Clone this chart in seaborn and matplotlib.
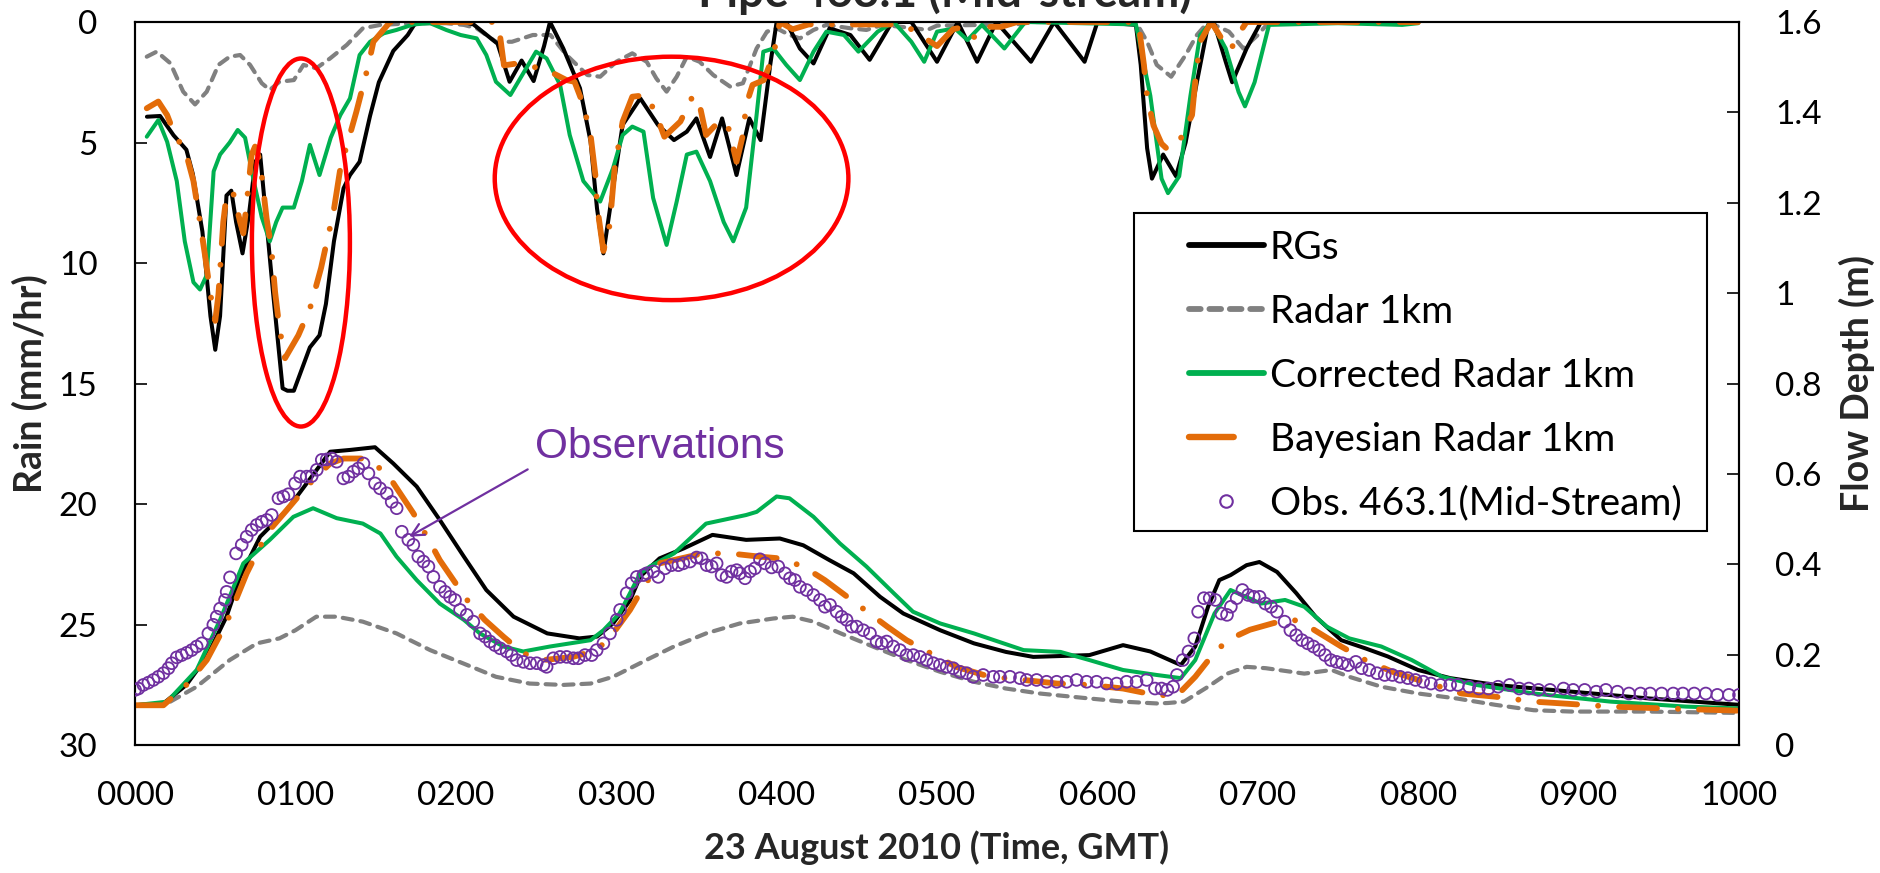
import numpy as np
import pandas as pd
import matplotlib
matplotlib.use("Agg")
import matplotlib.pyplot as plt
from matplotlib.patches import Ellipse, Rectangle
from matplotlib.lines import Line2D
import seaborn as sns

# ---------------- data (time in hours after 00:00 GMT) ----------------
# Rainfall intensity (mm/hr), plotted on the inverted left axis
rgs_rain_t = [0.074, 0.156, 0.24, 0.32, 0.36, 0.42, 0.47, 0.50, 0.53, 0.57, 0.60, 0.63, 0.67, 0.71, 0.75,
              0.78, 0.86, 0.92, 0.95, 0.99, 1.04, 1.09, 1.15, 1.19, 1.24, 1.30, 1.34, 1.40, 1.465, 1.52,
              1.61, 1.70, 1.74, 1.78, 2.05, 2.11, 2.26, 2.335, 2.41, 2.485, 2.55, 2.587, 2.67, 2.774,
              2.84, 2.88, 2.92, 2.98, 3.04, 3.15, 3.26, 3.36, 3.44, 3.50, 3.585, 3.66, 3.75, 3.83, 3.90,
              3.96, 4.00, 4.06, 4.145, 4.23, 4.33, 4.46, 4.58, 4.72, 4.84, 5.00, 5.13, 5.25, 5.37, 5.586,
              5.73, 5.92, 6.00, 6.24, 6.27, 6.31, 6.34, 6.41, 6.49, 6.55, 6.62, 6.69, 6.73, 6.80, 6.84,
              6.93, 7.02, 8.00]
rgs_rain = [3.93, 3.9, 4.7, 5.3, 6.3, 8.7, 12.2, 13.6, 12.2, 7.2, 7.0, 8.3, 9.6, 8.0, 5.8,
            5.5, 11.2, 15.2, 15.3, 15.3, 14.4, 13.5, 13.0, 11.7, 9.1, 6.9, 6.35, 5.8, 3.9, 2.5,
            1.2, 0.54, 0.12, 0.0, 0.0, 0.1, 0.9, 2.48, 1.6, 2.45, 1.0, 0.0, 1.1, 2.75,
            4.96, 7.73, 9.6, 6.9, 4.27, 3.17, 4.27, 4.9, 4.55, 4.0, 5.6, 4.0, 6.35, 4.0, 4.9,
            1.78, 0.0, 0.0, 1.1, 1.72, 0.26, 0.54, 1.57, 0.0, 0.0, 1.65, 0.0, 1.65, 0.0, 1.65,
            0.0, 1.65, 0.0, 0.12, 1.78, 5.24, 6.5, 5.5, 6.4, 5.0, 2.5, 0.12, 0.1, 1.65, 2.5,
            1.1, 0.0, 0.0]

radar_rain_t = [0.073, 0.135, 0.22, 0.30, 0.374, 0.447, 0.52, 0.59, 0.655, 0.717, 0.79, 0.84, 0.90, 0.99,
                1.05, 1.13, 1.216, 1.32, 1.42, 1.53, 1.735, 1.94, 2.05, 2.13, 2.25, 2.35, 2.48, 2.59,
                2.69, 2.82, 2.90, 3.00, 3.10, 3.19, 3.25, 3.314, 3.377, 3.44, 3.52, 3.605, 3.71, 3.79,
                3.875, 3.94, 4.00, 4.08, 4.145, 4.23, 4.31, 4.46, 4.56, 4.66, 4.86, 4.94, 5.00, 5.50,
                5.60, 6.24, 6.31, 6.37, 6.46, 6.55, 6.62, 6.69, 6.82, 6.91, 7.00, 7.07, 8.00]
radar_rain = [1.44, 1.23, 1.71, 2.89, 3.42, 2.89, 1.78, 1.44, 1.37, 1.78, 2.54, 2.82, 2.48, 2.41,
              1.78, 1.92, 1.51, 0.95, 0.26, 0.12, 0.05, 0.05, 0.12, 0.26, 0.82, 0.82, 0.54, 0.54,
              1.37, 2.2, 2.27, 1.65, 1.3, 1.65, 2.34, 2.89, 2.27, 1.44, 1.65, 2.2, 2.68, 2.54,
              1.1, 0.4, 0.26, 0.54, 0.68, 0.33, 0.12, 0.26, 0.33, 0.12, 0.26, 0.33, 0.15, 0.1,
              0.0, 0.0, 0.82, 1.78, 2.27, 1.37, 0.54, 0.0, 0.4, 1.1, 0.54, 0.0, 0.0]

corr_rain_t = [0.073, 0.145, 0.20, 0.26, 0.31, 0.364, 0.405, 0.447, 0.49, 0.53, 0.59, 0.64, 0.686, 0.74,
               0.79, 0.84, 0.88, 0.92, 0.99, 1.04, 1.09, 1.15, 1.22, 1.28, 1.34, 1.40, 1.465, 1.55, 1.63,
               1.735, 1.84, 1.94, 2.03, 2.13, 2.19, 2.25, 2.34, 2.42, 2.50, 2.566, 2.65, 2.71, 2.795,
               2.90, 2.98, 3.04, 3.10, 3.17, 3.23, 3.314, 3.377, 3.44, 3.50, 3.585, 3.67, 3.73, 3.81,
               3.875, 3.917, 3.98, 4.06, 4.145, 4.23, 4.31, 4.42, 4.51, 4.63, 4.73, 4.84, 4.92, 5.00,
               5.11, 5.19, 5.28, 5.42, 5.55, 6.24, 6.33, 6.40, 6.44, 6.51, 6.58, 6.64, 6.71, 6.80,
               6.88, 6.92, 6.98, 7.07, 7.50, 7.90, 8.00]
corr_rain = [4.76, 4.07, 4.97, 6.6, 9.1, 10.8, 11.1, 10.5, 6.2, 5.5, 5.0, 4.48, 4.8, 6.6,
             8.1, 9.1, 8.3, 7.7, 7.7, 6.6, 5.1, 6.35, 4.8, 3.86, 3.17, 1.37, 0.82, 0.47, 0.33,
             0.1, 0.05, 0.33, 0.54, 0.68, 1.37, 2.48, 3.03, 2.13, 1.23, 1.51, 2.61, 4.69, 6.6,
             7.45, 6.07, 4.69, 4.34, 4.55, 7.3, 9.25, 7.45, 5.5, 5.38, 6.6, 8.3, 9.1, 7.7,
             3.86, 1.23, 1.1, 1.78, 2.41, 1.23, 0.4, 0.54, 1.23, 0.4, 0.0, 0.82, 1.65, 0.4,
             0.26, 0.75, 0.12, 1.1, 0.0, 0.1, 3.06, 6.5, 7.1, 6.4, 3.06, 0.54, 0.0, 1.1,
             2.9, 3.5, 2.5, 0.12, 0.05, 0.12, 0.05]

bayes_rain_t = [0.073, 0.145, 0.20, 0.24, 0.32, 0.364, 0.405, 0.436, 0.47, 0.50, 0.52, 0.55, 0.57, 0.61,
                0.655, 0.675, 0.696, 0.727, 0.748, 0.78, 0.82, 0.85, 0.873, 0.90, 0.935, 1.018, 1.09,
                1.16, 1.20, 1.237, 1.28, 1.33, 1.38, 1.455, 1.486, 1.59, 2.25, 2.27, 2.30, 2.38, 2.48,
                2.587, 2.69, 2.74, 2.795, 2.84, 2.87, 2.88, 2.92, 2.96, 2.99, 3.04, 3.10, 3.19, 3.25,
                3.30, 3.40, 3.48, 3.52, 3.56, 3.62, 3.69, 3.75, 3.79, 3.81, 3.85, 3.92, 3.98, 4.02,
                4.10, 4.20, 4.60, 4.75, 4.84, 5.00, 5.10, 5.17, 5.24, 5.32, 5.40, 5.50, 6.24, 6.26,
                6.29, 6.31, 6.35, 6.40, 6.44, 6.51, 6.59, 6.61, 6.64, 6.71, 6.80, 6.83, 6.89, 6.93, 8.00]
bayes_rain = [3.58, 3.3, 3.86, 4.55, 5.5, 6.6, 8.3, 9.67, 11.3, 12.4, 11.3, 8.3, 7.2, 7.04,
              8.3, 8.77, 7.5, 5.5, 5.17, 5.8, 8.15, 9.4, 11.2, 12.7, 13.95, 13.0, 11.9,
              10.2, 8.98, 7.9, 6.07, 4.9, 3.72, 1.78, 0.82, 0.0, 0.0, 0.3, 1.8, 1.72, 1.85,
              2.06, 2.41, 2.48, 3.44, 4.69, 6.35, 7.6, 9.5, 8.4, 6.07, 4.13, 3.1, 3.03, 3.86,
              4.76, 4.13, 3.03, 3.44, 4.69, 4.27, 4.13, 5.8, 4.69, 3.44, 2.61, 2.41, 1.37, 0.0,
              0.3, 0.1, 0.1, 0.1, 0.3, 1.0, 0.3, 0.2, 0.68, 0.2, 0.2, 0.0, 0.0, 0.26,
              1.78, 3.1, 4.3, 5.05, 5.3, 4.96, 3.86, 2.48, 0.82, 0.0, 0.96, 1.16, 0.4, 0.0, 0.0]

# Simulated flow depth (m), plotted on the right axis
rgs_flow_t = [0.0, 0.177, 0.32, 0.447, 0.57, 0.655, 0.78, 0.946, 1.07, 1.216, 1.34, 1.496, 1.61, 1.756,
              1.90, 2.05, 2.19, 2.36, 2.57, 2.77, 2.88, 2.98, 3.086, 3.15, 3.27, 3.42, 3.60, 3.81, 4.02,
              4.166, 4.33, 4.48, 4.645, 4.79, 5.02, 5.23, 5.43, 5.60, 5.95, 6.16, 6.33, 6.52, 6.61,
              6.69, 6.76, 6.83, 6.93, 7.01, 7.12, 7.24, 7.36, 7.52, 7.67, 7.81, 8.00, 8.20, 8.48,
              8.96, 9.44, 10.0]
rgs_flow = [0.088, 0.092, 0.133, 0.195, 0.284, 0.372, 0.461, 0.52, 0.579, 0.649, 0.653, 0.659, 0.623, 0.572,
            0.498, 0.417, 0.343, 0.284, 0.247, 0.236, 0.24, 0.269, 0.32, 0.373, 0.413, 0.435, 0.465, 0.454, 0.457,
            0.442, 0.409, 0.38, 0.328, 0.291, 0.254, 0.225, 0.206, 0.195, 0.199, 0.221, 0.207, 0.177, 0.218,
            0.306, 0.365, 0.376, 0.398, 0.405, 0.383, 0.336, 0.284, 0.232, 0.214, 0.196, 0.166, 0.148, 0.133,
            0.118, 0.103, 0.089]

radar_flow_t = [0.0, 0.20, 0.384, 0.59, 0.76, 0.90, 1.0, 1.13, 1.257, 1.42, 1.63, 1.84, 2.05, 2.25, 2.46,
                2.67, 2.84, 2.98, 3.21, 3.36, 3.56, 3.77, 3.98, 4.10, 4.23, 4.40, 4.60, 4.81, 5.02, 5.23,
                5.43, 5.64, 5.95, 6.16, 6.37, 6.44, 6.54, 6.69, 6.81, 6.93, 7.05, 7.29, 7.46, 7.57, 7.77,
                8.00, 8.24, 8.48, 8.72, 8.96, 9.44, 10.0]
radar_flow = [0.088, 0.092, 0.129, 0.188, 0.225, 0.236, 0.254, 0.284, 0.284, 0.273, 0.247, 0.21, 0.18, 0.151, 0.136,
              0.133, 0.136, 0.151, 0.192, 0.218, 0.247, 0.269, 0.28, 0.284, 0.273, 0.247, 0.218, 0.188, 0.162, 0.14,
              0.125, 0.114, 0.103, 0.096, 0.092, 0.093, 0.096, 0.129, 0.158, 0.173, 0.17, 0.158, 0.166, 0.151, 0.129,
              0.114, 0.103, 0.089, 0.077, 0.074, 0.074, 0.071]

corr_flow_t = [0.0, 0.20, 0.384, 0.53, 0.675, 0.84, 0.987, 1.11, 1.257, 1.42, 1.53, 1.63, 1.756, 1.90, 2.05,
               2.15, 2.296, 2.42, 2.587, 2.84, 2.92, 3.02, 3.15, 3.21, 3.36, 3.56, 3.81, 3.876, 4.0, 4.08,
               4.23, 4.395, 4.56, 4.73, 4.85, 5.02, 5.23, 5.54, 5.77, 5.95, 6.16, 6.37, 6.52, 6.61, 6.73,
               6.83, 6.90, 7.02, 7.17, 7.29, 7.43, 7.57, 7.77, 7.96, 8.15, 8.36, 8.72, 9.20, 9.67, 10.0]
corr_flow = [0.088, 0.096, 0.166, 0.277, 0.402, 0.454, 0.505, 0.524, 0.502, 0.49, 0.468, 0.417, 0.365, 0.313, 0.277,
             0.247, 0.218, 0.207, 0.218, 0.232, 0.254, 0.291, 0.38, 0.395, 0.424, 0.49, 0.509, 0.516, 0.55, 0.546,
             0.505, 0.446, 0.395, 0.336, 0.295, 0.269, 0.247, 0.21, 0.206, 0.188, 0.166, 0.155, 0.148, 0.188, 0.291,
             0.343, 0.332, 0.313, 0.321, 0.306, 0.262, 0.236, 0.218, 0.188, 0.151, 0.133, 0.114, 0.096, 0.085, 0.081]

bayes_flow_t = [0.0, 0.177, 0.32, 0.447, 0.57, 0.696, 0.82, 0.946, 1.07, 1.216, 1.30, 1.44, 1.57, 1.735, 1.82,
                1.90, 2.07, 2.18, 2.296, 2.42, 2.546, 2.73, 2.88, 2.98, 3.086, 3.17, 3.27, 3.54, 3.71, 3.89,
                4.02, 4.166, 4.30, 4.44, 4.69, 4.81, 4.96, 5.12, 5.33, 5.54, 5.75, 5.95, 6.16, 6.37, 6.50,
                6.61, 6.71, 6.81, 6.95, 7.10, 7.22, 7.35, 7.52, 7.67, 7.84, 8.10, 8.27, 8.48, 8.72, 8.90,
                9.20, 9.53, 10.0]
bayes_flow = [0.088, 0.088, 0.133, 0.188, 0.27, 0.38, 0.468, 0.52, 0.572, 0.623, 0.634, 0.634, 0.601, 0.513, 0.461,
              0.409, 0.321, 0.277, 0.24, 0.203, 0.188, 0.195, 0.21, 0.247, 0.299, 0.35, 0.402, 0.424, 0.424, 0.417,
              0.413, 0.395, 0.365, 0.328, 0.262, 0.232, 0.203, 0.173, 0.151, 0.144, 0.136, 0.133, 0.125, 0.11, 0.111,
              0.151, 0.196, 0.232, 0.255, 0.27, 0.278, 0.255, 0.218, 0.188, 0.162, 0.133, 0.114, 0.107, 0.096, 0.092,
              0.085, 0.081, 0.076]

# Observed flow depth at 463.1 (mid-stream)
obs_t = [0.000, 0.021, 0.052, 0.083, 0.114, 0.145, 0.177, 0.208, 0.229, 0.260, 0.291, 0.322, 0.353, 0.384,
         0.416, 0.457, 0.488, 0.509, 0.530, 0.561, 0.571, 0.592, 0.630, 0.665, 0.696, 0.727, 0.759, 0.790,
         0.821, 0.852, 0.894, 0.925, 0.956, 0.998, 1.029, 1.070, 1.101, 1.133, 1.164, 1.195, 1.226, 1.257,
         1.299, 1.330, 1.361, 1.392, 1.424, 1.455, 1.496, 1.527, 1.569, 1.600, 1.631, 1.663, 1.704, 1.735,
         1.766, 1.798, 1.829, 1.860, 1.901, 1.933, 1.964, 1.995, 2.026, 2.068, 2.109, 2.151, 2.182, 2.213,
         2.244, 2.276, 2.317, 2.348, 2.379, 2.421, 2.463, 2.504, 2.546, 2.566, 2.608, 2.650, 2.691, 2.733,
         2.764, 2.805, 2.847, 2.878, 2.920, 2.961, 3.003, 3.024, 3.065, 3.096, 3.128, 3.169,
         3.190, 3.231, 3.262, 3.304, 3.345, 3.387, 3.418, 3.460, 3.501, 3.532, 3.564, 3.595, 3.626, 3.657,
         3.688, 3.719, 3.751, 3.771, 3.803, 3.834, 3.865, 3.896, 3.927, 3.969, 4.010, 4.052, 4.083, 4.114,
         4.145, 4.187, 4.229, 4.270, 4.301, 4.333, 4.374, 4.405, 4.436, 4.468, 4.499, 4.540, 4.582, 4.623,
         4.655, 4.686, 4.727, 4.769, 4.810, 4.852, 4.894, 4.935, 4.977, 5.018, 5.060, 5.101, 5.143, 5.185,
         5.226, 5.288, 5.351, 5.392, 5.455, 5.517, 5.559, 5.621, 5.683, 5.746, 5.808, 5.870, 5.933, 5.995,
         6.057, 6.120, 6.182, 6.244, 6.307, 6.359,
         6.400, 6.436, 6.472, 6.496, 6.532, 6.568, 6.604, 6.628, 6.664, 6.700, 6.736, 6.772, 6.808, 6.832,
         6.868, 6.904, 6.940, 6.975, 7.011, 7.047, 7.083, 7.119, 7.167, 7.203, 7.239, 7.275, 7.311, 7.347,
         7.383, 7.419, 7.455, 7.491, 7.527, 7.563, 7.611, 7.647, 7.695, 7.743, 7.791, 7.839, 7.887, 7.935,
         7.983, 8.031, 8.079, 8.139, 8.199, 8.247, 8.318, 8.378, 8.438, 8.498, 8.570, 8.630, 8.690, 8.750,
         8.822, 8.906, 8.966, 9.038, 9.110, 9.170, 9.242, 9.314, 9.386, 9.446, 9.518, 9.590, 9.650, 9.721,
         9.793, 9.865, 9.937, 10.000]
obs_flow = [0.122, 0.125, 0.133, 0.138, 0.144, 0.151, 0.159, 0.170, 0.181, 0.194, 0.199, 0.204, 0.210, 0.218,
            0.225, 0.247, 0.266, 0.284, 0.302, 0.321, 0.339, 0.371, 0.424, 0.443, 0.461, 0.476, 0.487, 0.494,
            0.498, 0.509, 0.546, 0.550, 0.555, 0.579, 0.594, 0.594, 0.595, 0.609, 0.631, 0.632, 0.634, 0.627,
            0.590, 0.594, 0.605, 0.612, 0.623, 0.601, 0.579, 0.568, 0.557, 0.538, 0.524, 0.472, 0.454, 0.443,
            0.417, 0.406, 0.395, 0.372, 0.350, 0.339, 0.328, 0.321, 0.299, 0.288, 0.273, 0.247, 0.240, 0.229,
            0.221, 0.214, 0.207, 0.199, 0.188, 0.184, 0.181, 0.181, 0.177, 0.173, 0.192, 0.195, 0.195, 0.192,
            0.192, 0.199, 0.199, 0.210, 0.225, 0.247, 0.277, 0.299, 0.336, 0.358, 0.372, 0.376,
            0.380, 0.384, 0.372, 0.391, 0.398, 0.398, 0.402, 0.406, 0.415, 0.413, 0.398, 0.395, 0.402, 0.376,
            0.372, 0.384, 0.387, 0.380, 0.369, 0.384, 0.391, 0.411, 0.402, 0.393, 0.395, 0.380, 0.369, 0.365,
            0.350, 0.343, 0.332, 0.321, 0.306, 0.310, 0.295, 0.284, 0.277, 0.262, 0.262, 0.254, 0.247, 0.229,
            0.225, 0.229, 0.218, 0.210, 0.199, 0.199, 0.195, 0.188, 0.181, 0.177, 0.173, 0.170, 0.162, 0.159,
            0.151, 0.155, 0.151, 0.151, 0.151, 0.148, 0.144, 0.144, 0.140, 0.140, 0.140, 0.144, 0.140, 0.140,
            0.136, 0.136, 0.140, 0.140, 0.144, 0.125,
            0.125, 0.122, 0.129, 0.155, 0.188, 0.207, 0.236, 0.295, 0.325, 0.325, 0.321, 0.291, 0.288, 0.306,
            0.325, 0.343, 0.332, 0.328, 0.328, 0.313, 0.306, 0.295, 0.273, 0.254, 0.243, 0.232, 0.225, 0.218,
            0.210, 0.199, 0.188, 0.184, 0.181, 0.177, 0.184, 0.170, 0.166, 0.159, 0.155, 0.155, 0.151, 0.148,
            0.144, 0.140, 0.136, 0.133, 0.133, 0.133, 0.129, 0.125, 0.125, 0.129, 0.133, 0.125, 0.125, 0.122,
            0.122, 0.125, 0.122, 0.122, 0.118, 0.122, 0.118, 0.114, 0.114, 0.114, 0.114, 0.114, 0.114, 0.114,
            0.114, 0.111, 0.111, 0.111]

tick_hours = list(range(0, 11))
tick_labels = ["0000", "0100", "0200", "0300", "0400", "0500", "0600", "0700", "0800", "0900", "1000"]
series_labels = ["RGs", "Radar 1km", "Corrected Radar 1km", "Bayesian Radar 1km", "Obs. 463.1(Mid-Stream)"]

# ---------------- styling ----------------
BLACK, GREY, GREEN, ORANGE, PURPLE, RED = "#000000", "#808080", "#00B050", "#E36C09", "#7030A0", "#FF0000"
sns.set_theme(style="white")
plt.rcParams["font.family"] = ["Lato", "DejaVu Sans"]

fig = plt.figure(figsize=(18.81, 8.73), dpi=100)
ax = fig.add_axes([0.0718, 0.1466, 0.8527, 0.8282])
ax2 = ax.twinx()

dash_grey = (0, (2.4, 1.9))
dash_orange = (0, (6.5, 3.6, 0.01, 3.6))


def draw_rain_and_flow(t_r, v_r, t_f, v_f, color, ls, lw):
    for axis, t, v in ((ax, t_r, v_r), (ax2, t_f, v_f)):
        sns.lineplot(x=t, y=v, ax=axis, color=color, linestyle=ls, linewidth=lw,
                     dash_capstyle="round", solid_capstyle="round", solid_joinstyle="round",
                     errorbar=None)


draw_rain_and_flow(radar_rain_t, radar_rain, radar_flow_t, radar_flow, GREY, dash_grey, 3.0)
draw_rain_and_flow(rgs_rain_t, rgs_rain, rgs_flow_t, rgs_flow, BLACK, "-", 2.9)
draw_rain_and_flow(corr_rain_t, corr_rain, corr_flow_t, corr_flow, GREEN, "-", 2.9)
draw_rain_and_flow(bayes_rain_t, bayes_rain, bayes_flow_t, bayes_flow, ORANGE, dash_orange, 4.2)

sns.scatterplot(x=obs_t, y=obs_flow, ax=ax2, marker="o", s=72, color=PURPLE,
                facecolors="none", edgecolor=PURPLE, linewidth=1.3, zorder=5)

# axes ranges and ticks
ax.set_xlim(0, 10)
ax.set_ylim(30, 0)
ax2.set_ylim(0, 1.6)
ax.set_xticks(tick_hours)
ax.set_xticklabels(tick_labels)
ax.set_yticks(range(0, 31, 5))
ax2.set_yticks(np.arange(0, 1.61, 0.2))
ax2.set_yticklabels(["0", "0.2", "0.4", "0.6", "0.8", "1", "1.2", "1.4", "1.6"])

for a in (ax, ax2):
    for sp in a.spines.values():
        sp.set_visible(True)
        sp.set_color("black")
        sp.set_linewidth(1.5)
    a.grid(False)
ax.tick_params(axis="x", direction="in", length=8.5, width=1.2, pad=26, labelsize=24, colors="black")
ax.tick_params(axis="y", direction="in", length=8.5, width=1.2, pad=27, labelsize=24, colors="black",
               left=True, right=False)
ax2.tick_params(axis="y", direction="in", length=8.5, width=1.2, pad=26, labelsize=24, colors="black",
                right=True, left=False)
ax.set_facecolor("white")

ax.set_xlabel("23 August 2010 (Time, GMT)", fontsize=26, fontweight="bold", labelpad=14)
ax.set_ylabel("Rain (mm/hr)", fontsize=27, fontweight="bold", labelpad=8)
ax2.set_ylabel("Flow Depth (m)", fontsize=27, fontweight="bold", labelpad=12)

fig.text(0.5024, 0.9915, "Pipe 463.1 (Mid-stream)", ha="center", va="baseline",
         fontsize=33, fontweight="bold")

# highlighted rainfall periods
for (cx, cy, w, h) in [(1.034, 9.15, 0.611, 15.27), (3.345, 6.49, 2.205, 10.1)]:
    e = Ellipse((cx, cy), w, h, transform=ax.transData, fill=False, edgecolor=RED, linewidth=3.2,
                zorder=10, clip_on=False)
    ax2.add_patch(e)

# observation call-out
ax2.annotate("", xy=(1.694, 0.458), xytext=(2.463, 0.613),
             arrowprops=dict(arrowstyle="->", color=PURPLE, lw=1.6, mutation_scale=22), zorder=11)
ax2.text(2.494, 0.659, "Observations", color=PURPLE, fontsize=30.5, family=["Liberation Sans"],
         ha="left", va="center", zorder=11)

# legend
frame = Rectangle((0.623, 0.296), 0.357, 0.440, transform=ax2.transAxes, facecolor="white",
                  edgecolor="black", linewidth=1.5, zorder=20)
ax2.add_patch(frame)
handles = [
    Line2D([], [], color=BLACK, lw=4.2),
    Line2D([], [], color=GREY, lw=4.2, linestyle=(0, (2.0, 1.5)), dash_capstyle="round"),
    Line2D([], [], color=GREEN, lw=4.2),
    Line2D([], [], color=ORANGE, lw=4.6, linestyle=(0, (7, 20)), dash_capstyle="round"),
    Line2D([], [], color=PURPLE, linestyle="", marker="o", mfc="none", mec=PURPLE, ms=9, mew=1.5),
]
leg = ax2.legend(handles, series_labels, loc="upper left", bbox_to_anchor=(0.657, 0.713), frameon=False,
                 fontsize=28, handlelength=1.93, handletextpad=0.15, labelspacing=0.72,
                 borderpad=0.0, borderaxespad=0.0, labelcolor="black")
leg.set_zorder(21)

fig.savefig("out.png", dpi=100)
